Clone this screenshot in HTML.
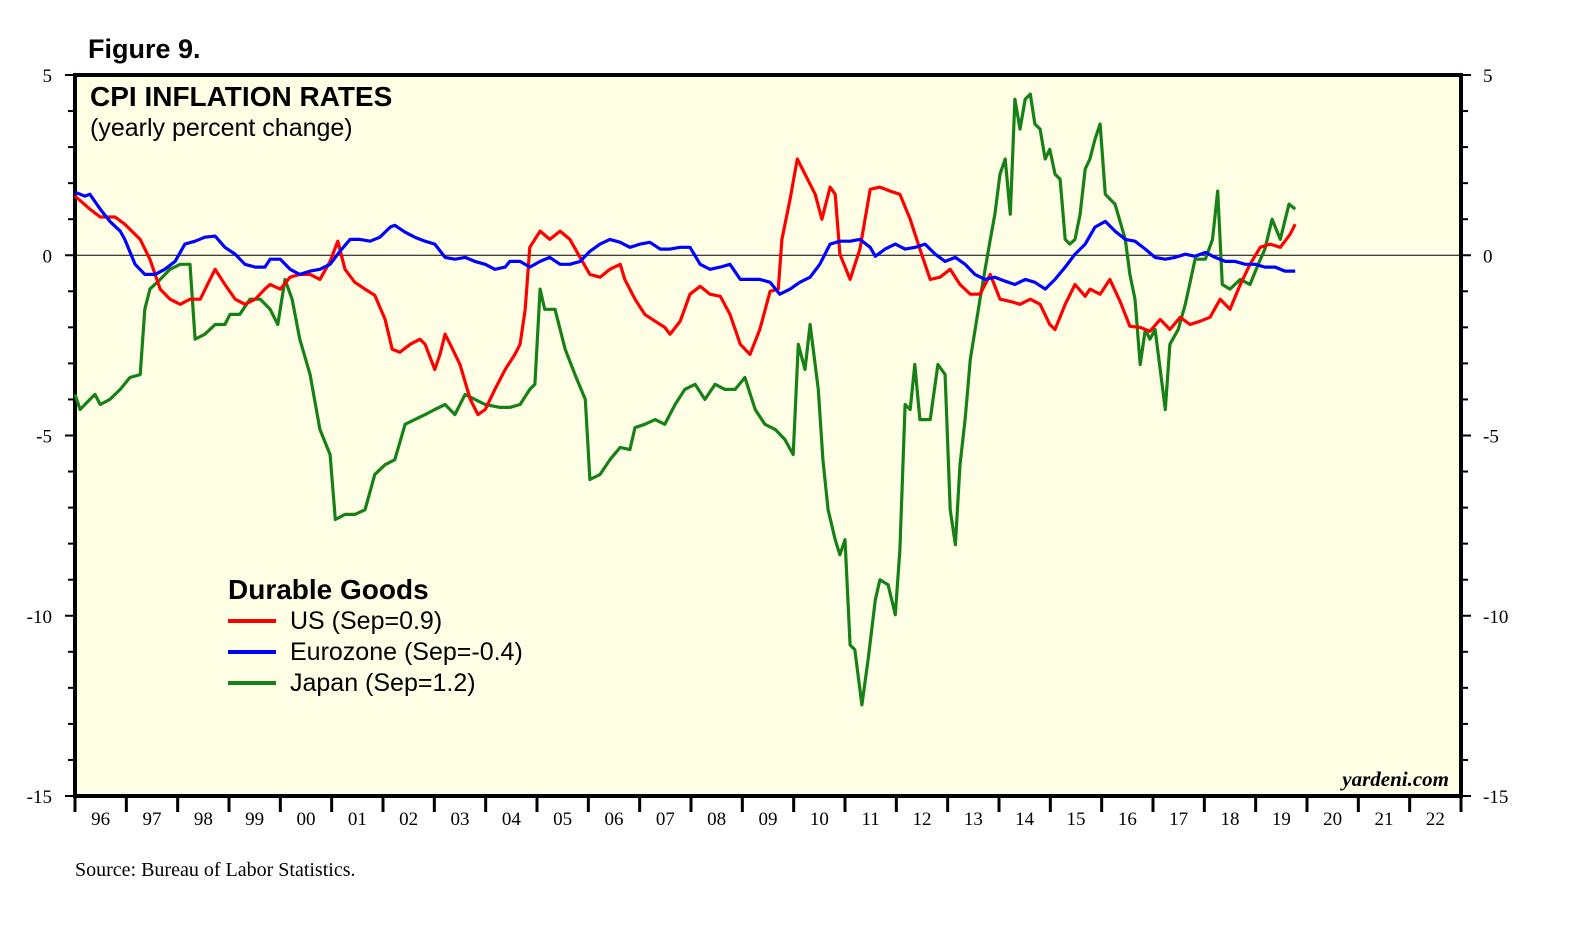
<!DOCTYPE html>
<html><head><meta charset="utf-8">
<style>
html,body{margin:0;padding:0;background:#fff;}
body{width:1573px;height:939px;overflow:hidden;}
svg text{font-family:"Liberation Serif",serif;}
</style></head>
<body>
<svg id="chart" width="1573" height="939" xmlns="http://www.w3.org/2000/svg">
  <text x="88" y="58" style="font-family:'Liberation Sans',sans-serif" font-weight="bold" font-size="27">Figure 9.</text>
  <rect x="75" y="75" width="1386" height="721" fill="#FFFFE6" stroke="#000" stroke-width="4"/>
  <g id="axes"></g>
  <g id="series"></g>
  <text x="90" y="106" style="font-family:'Liberation Sans',sans-serif" font-weight="bold" font-size="28">CPI INFLATION RATES</text>
  <text x="90" y="136" style="font-family:'Liberation Sans',sans-serif" font-size="25">(yearly percent change)</text>
  <g>
    <text x="228" y="599" style="font-family:'Liberation Sans',sans-serif" font-weight="bold" font-size="28">Durable Goods</text>
    <line x1="228" y1="621" x2="276" y2="621" stroke="#ff0000" stroke-width="4"/>
    <text x="290" y="629" style="font-family:'Liberation Sans',sans-serif" font-size="25">US (Sep=0.9)</text>
    <line x1="228" y1="652" x2="276" y2="652" stroke="#0000ff" stroke-width="4"/>
    <text x="290" y="660" style="font-family:'Liberation Sans',sans-serif" font-size="25">Eurozone (Sep=-0.4)</text>
    <line x1="228" y1="683" x2="276" y2="683" stroke="#178017" stroke-width="4"/>
    <text x="290" y="691" style="font-family:'Liberation Sans',sans-serif" font-size="25">Japan (Sep=1.2)</text>
  </g>
  <text x="1449" y="786" text-anchor="end" font-weight="bold" font-style="italic" font-size="21">yardeni.com</text>
  <text x="75" y="876" font-size="20">Source: Bureau of Labor Statistics.</text>
</svg>
<script>
const yearLabels = ["96","97","98","99","00","01","02","03","04","05","06","07","08","09","10","11","12","13","14","15","16","17","18","19","20","21","22"];
const yTicks = [5,0,-5,-10,-15];
const usT = [1996.0,1996.29,1996.49,1996.78,1996.97,1997.27,1997.46,1997.66,1997.85,1998.05,1998.24,1998.44,1998.63,1998.73,1998.92,1999.12,1999.31,1999.51,1999.70,1999.80,2000.0,2000.19,2000.38,2000.58,2000.77,2000.97,2001.12,2001.26,2001.45,2001.65,2001.84,2002.04,2002.18,2002.33,2002.53,2002.72,2002.82,2003.01,2003.11,2003.21,2003.31,2003.50,2003.70,2003.85,2003.99,2004.18,2004.38,2004.57,2004.67,2004.77,2004.86,2005.06,2005.25,2005.45,2005.64,2005.84,2006.03,2006.23,2006.42,2006.62,2006.71,2006.91,2007.10,2007.30,2007.49,2007.59,2007.79,2007.98,2008.18,2008.37,2008.57,2008.76,2008.96,2009.15,2009.34,2009.54,2009.70,2009.77,2009.93,2010.07,2010.22,2010.42,2010.55,2010.71,2010.81,2010.90,2011.10,2011.29,2011.49,2011.68,2011.88,2012.07,2012.27,2012.46,2012.66,2012.85,2013.05,2013.24,2013.44,2013.63,2013.83,2014.02,2014.22,2014.41,2014.61,2014.80,2014.99,2015.09,2015.29,2015.48,2015.68,2015.77,2015.97,2016.16,2016.36,2016.55,2016.75,2016.94,2017.14,2017.33,2017.53,2017.72,2017.92,2018.11,2018.31,2018.50,2018.70,2018.89,2019.09,2019.28,2019.48,2019.67,2019.77];
const usV = [1.64,1.28,1.06,1.06,0.86,0.44,-0.11,-0.94,-1.22,-1.36,-1.22,-1.22,-0.67,-0.39,-0.81,-1.22,-1.36,-1.22,-0.94,-0.81,-0.94,-0.61,-0.53,-0.53,-0.67,-0.17,0.39,-0.39,-0.75,-0.94,-1.11,-1.78,-2.61,-2.69,-2.47,-2.33,-2.47,-3.17,-2.75,-2.19,-2.47,-3.03,-4.0,-4.42,-4.28,-3.72,-3.17,-2.75,-2.47,-1.5,0.22,0.67,0.44,0.67,0.44,-0.06,-0.53,-0.61,-0.39,-0.25,-0.67,-1.22,-1.64,-1.83,-2.0,-2.19,-1.83,-1.08,-0.86,-1.08,-1.14,-1.64,-2.47,-2.75,-2.06,-1.0,-0.94,0.44,1.56,2.67,2.25,1.69,1.0,1.89,1.69,0.03,-0.67,0.17,1.83,1.89,1.78,1.69,1.0,0.17,-0.67,-0.61,-0.39,-0.81,-1.08,-1.08,-0.53,-1.22,-1.28,-1.36,-1.22,-1.36,-1.92,-2.06,-1.36,-0.81,-1.14,-0.94,-1.08,-0.67,-1.28,-1.97,-2.0,-2.11,-1.78,-2.06,-1.72,-1.92,-1.83,-1.72,-1.22,-1.5,-0.81,-0.25,0.22,0.31,0.22,0.58,0.86];
const euT = [1996.0,1996.19,1996.29,1996.49,1996.68,1996.88,1996.97,1997.17,1997.36,1997.56,1997.75,1997.95,1998.14,1998.34,1998.53,1998.73,1998.92,1999.12,1999.31,1999.51,1999.70,1999.80,2000.0,2000.19,2000.38,2000.58,2000.77,2000.97,2001.16,2001.36,2001.55,2001.75,2001.94,2002.14,2002.23,2002.43,2002.62,2002.82,2003.01,2003.21,2003.40,2003.60,2003.79,2003.99,2004.18,2004.38,2004.47,2004.67,2004.86,2005.06,2005.25,2005.45,2005.64,2005.84,2006.03,2006.23,2006.42,2006.62,2006.81,2007.01,2007.20,2007.40,2007.59,2007.79,2007.98,2008.18,2008.37,2008.57,2008.76,2008.96,2009.15,2009.34,2009.54,2009.73,2009.93,2010.12,2010.32,2010.51,2010.71,2010.90,2011.10,2011.29,2011.49,2011.59,2011.78,2011.98,2012.17,2012.37,2012.56,2012.76,2012.95,2013.15,2013.34,2013.53,2013.73,2013.92,2014.12,2014.31,2014.51,2014.70,2014.90,2015.09,2015.29,2015.48,2015.68,2015.87,2016.07,2016.26,2016.46,2016.65,2016.85,2017.04,2017.24,2017.43,2017.63,2017.82,2018.02,2018.21,2018.41,2018.60,2018.80,2018.99,2019.18,2019.38,2019.57,2019.77];
const euV = [1.75,1.64,1.69,1.28,0.94,0.67,0.44,-0.25,-0.53,-0.53,-0.39,-0.17,0.31,0.39,0.5,0.53,0.22,0.03,-0.25,-0.33,-0.33,-0.11,-0.11,-0.39,-0.53,-0.44,-0.39,-0.25,0.11,0.44,0.44,0.39,0.5,0.78,0.83,0.64,0.5,0.39,0.31,-0.06,-0.11,-0.06,-0.17,-0.25,-0.39,-0.33,-0.17,-0.17,-0.33,-0.17,-0.06,-0.25,-0.25,-0.17,0.11,0.31,0.44,0.36,0.22,0.31,0.36,0.17,0.17,0.22,0.22,-0.25,-0.39,-0.33,-0.25,-0.67,-0.67,-0.67,-0.75,-1.08,-0.94,-0.75,-0.61,-0.25,0.31,0.39,0.39,0.44,0.22,-0.03,0.17,0.31,0.17,0.22,0.31,0.03,-0.17,-0.06,-0.25,-0.53,-0.67,-0.61,-0.72,-0.81,-0.67,-0.75,-0.94,-0.67,-0.33,0.03,0.31,0.78,0.94,0.67,0.44,0.39,0.17,-0.06,-0.11,-0.06,0.03,-0.03,0.08,-0.06,-0.17,-0.17,-0.25,-0.25,-0.33,-0.33,-0.44,-0.44];
const jpT = [1996.0,1996.10,1996.29,1996.39,1996.49,1996.68,1996.88,1997.07,1997.27,1997.36,1997.46,1997.66,1997.85,1998.05,1998.24,1998.34,1998.53,1998.73,1998.92,1999.02,1999.21,1999.41,1999.61,1999.80,1999.95,2000.09,2000.23,2000.38,2000.58,2000.77,2000.97,2001.07,2001.26,2001.45,2001.65,2001.84,2002.04,2002.23,2002.43,2002.62,2002.82,2003.01,2003.21,2003.40,2003.60,2003.79,2003.99,2004.28,2004.47,2004.67,2004.86,2004.96,2005.06,2005.15,2005.35,2005.55,2005.74,2005.94,2006.03,2006.23,2006.42,2006.62,2006.81,2006.91,2007.10,2007.30,2007.49,2007.69,2007.88,2008.08,2008.27,2008.47,2008.66,2008.86,2009.05,2009.25,2009.44,2009.64,2009.83,2009.99,2010.09,2010.22,2010.32,2010.48,2010.57,2010.67,2010.81,2010.90,2011.0,2011.10,2011.19,2011.33,2011.45,2011.59,2011.68,2011.84,2011.98,2012.07,2012.17,2012.27,2012.36,2012.46,2012.66,2012.81,2012.95,2013.05,2013.15,2013.24,2013.34,2013.44,2013.63,2013.73,2013.83,2013.92,2014.02,2014.12,2014.22,2014.31,2014.41,2014.51,2014.61,2014.70,2014.80,2014.90,2014.99,2015.09,2015.19,2015.29,2015.38,2015.48,2015.58,2015.68,2015.77,2015.87,2015.97,2016.07,2016.16,2016.26,2016.46,2016.55,2016.65,2016.75,2016.85,2016.94,2017.04,2017.24,2017.33,2017.49,2017.63,2017.82,2018.02,2018.16,2018.26,2018.35,2018.50,2018.70,2018.89,2019.05,2019.18,2019.32,2019.48,2019.65,2019.77];
const jpV = [-3.86,-4.28,-4.0,-3.86,-4.14,-4.0,-3.72,-3.39,-3.31,-1.5,-0.94,-0.67,-0.39,-0.25,-0.25,-2.33,-2.19,-1.92,-1.92,-1.64,-1.64,-1.22,-1.22,-1.5,-1.92,-0.67,-1.22,-2.33,-3.31,-4.83,-5.53,-7.33,-7.19,-7.19,-7.06,-6.08,-5.81,-5.67,-4.69,-4.56,-4.42,-4.28,-4.14,-4.42,-3.86,-4.0,-4.14,-4.22,-4.22,-4.14,-3.72,-3.58,-0.94,-1.5,-1.5,-2.61,-3.31,-4.0,-6.22,-6.08,-5.67,-5.33,-5.39,-4.78,-4.69,-4.56,-4.69,-4.14,-3.72,-3.58,-4.0,-3.58,-3.72,-3.72,-3.39,-4.28,-4.69,-4.83,-5.11,-5.53,-2.47,-3.17,-1.92,-3.72,-5.67,-7.06,-7.89,-8.31,-7.89,-10.81,-10.94,-12.47,-11.22,-9.56,-9.0,-9.14,-9.97,-8.17,-4.14,-4.28,-3.03,-4.56,-4.56,-3.03,-3.31,-7.06,-8.03,-5.81,-4.56,-2.89,-1.22,-0.39,0.44,1.14,2.25,2.67,1.14,4.33,3.5,4.33,4.47,3.64,3.5,2.67,2.94,2.25,2.11,0.44,0.31,0.44,1.14,2.39,2.67,3.22,3.64,1.69,1.56,1.42,0.44,-0.53,-1.22,-3.03,-2.06,-2.33,-2.06,-4.28,-2.47,-2.06,-1.36,-0.11,-0.11,0.44,1.78,-0.81,-0.94,-0.67,-0.81,-0.25,0.17,1.0,0.44,1.42,1.28];

const X0=75, X1=1461, Y0=75, Y1=796, T0=1996, T1=2023, VMAX=5, VMIN=-15;
function xs(t){return X0+(t-T0)/(T1-T0)*(X1-X0);}
function ys(v){return Y0+(VMAX-v)/(VMAX-VMIN)*(Y1-Y0);}
const NS="http://www.w3.org/2000/svg";
const axes=document.getElementById('axes');
const series=document.getElementById('series');
function mk(tag,attrs,parent){const e=document.createElementNS(NS,tag);for(const k in attrs)e.setAttribute(k,attrs[k]);parent.appendChild(e);return e;}

const zl=mk('line',{x1:X0,x2:X1,y1:ys(0),y2:ys(0),stroke:'#000','stroke-width':1},axes);


for(let v=VMIN; v<=VMAX; v++){
  const major = v%5===0;
  const len = major?10:7;
  const tl=mk('line',{x1:X0-len,x2:X0,y1:ys(v),y2:ys(v),stroke:'#000','stroke-width':2},axes);
  
  
  const tr=mk('line',{x1:X1,x2:X1+len,y1:ys(v),y2:ys(v),stroke:'#000','stroke-width':2},axes);
  
  
}
yTicks.forEach(v=>{
  const a=mk('text',{x:52,y:ys(v)+7,'text-anchor':'end','font-size':19},axes);
  a.textContent=String(v);
  
  
  const b=mk('text',{x:1483,y:ys(v)+7,'text-anchor':'start','font-size':19},axes);
  b.textContent=String(v);
  
  
});
for(let i=0;i<=yearLabels.length;i++){
  const x=xs(T0+i);
  const tk=mk('line',{x1:x,x2:x,y1:Y1,y2:Y1+16,stroke:'#000','stroke-width':3},axes);
  
  
}
yearLabels.forEach((lab,i)=>{
  const t=mk('text',{x:xs(T0+i+0.5),y:Y1+29,'text-anchor':'middle','font-size':19},axes);
  t.textContent=lab;
  
  
});
function drawLine(T,V,color,name){
  const d=T.map((t,i)=>(i?'L':'M')+xs(t).toFixed(1)+','+ys(V[i]).toFixed(1)).join('');
  const p=mk('path',{d:d,fill:'none',stroke:color,'stroke-width':3.2,'stroke-linejoin':'round'},series);
  
  
}
drawLine(jpT,jpV,'#178017','japan-line');
drawLine(usT,usV,'#ff0000','us-line');
drawLine(euT,euV,'#0000ff','eurozone-line');
</script>
</body></html>
